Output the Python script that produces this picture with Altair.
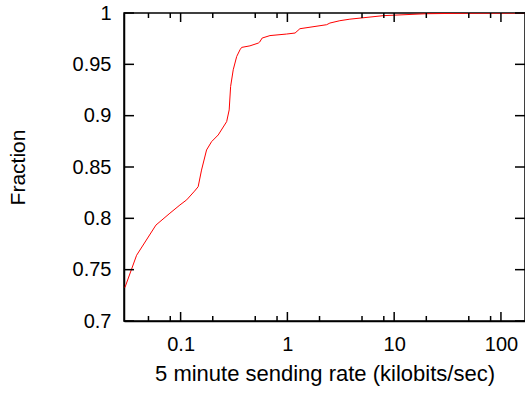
import altair as alt
import pandas as pd

# CDF of 5-minute sending rates
rate_kbps = [0.0301, 0.0387, 0.0587, 0.0794, 0.0985, 0.114, 0.135, 0.146, 0.157,
             0.175, 0.195, 0.225, 0.270, 0.285, 0.294, 0.311, 0.335, 0.36, 0.373,
             0.446, 0.534, 0.55, 0.58, 0.687, 0.98, 1.18, 1.31, 2.33, 2.5, 3.1,
             3.85, 7.9, 20, 50, 168]
fraction = [0.7326, 0.764, 0.7934, 0.805, 0.813, 0.818, 0.8265, 0.8308, 0.847,
            0.8666, 0.8747, 0.8812, 0.8942, 0.9056, 0.9284, 0.9447, 0.9576, 0.9642,
            0.9665, 0.968, 0.9707, 0.9717, 0.9756, 0.978, 0.9795, 0.9805, 0.9847,
            0.9886, 0.9902, 0.9925, 0.994, 0.9974, 0.9993, 0.9998, 1.0]

x_major = [0.1, 1, 10, 100]
x_minor = [0.05, 0.08, 0.2, 0.5, 0.8, 2, 5, 8, 20, 50, 80]
y_major = [0.7, 0.75, 0.8, 0.85, 0.9, 0.95, 1.0]

W, H = 401, 308
FONT = "Liberation Sans"

xscale = alt.Scale(type="log", domain=[0.0295, 168], nice=False)
yscale = alt.Scale(domain=[0.7, 1.0], nice=False, zero=False)

curve_df = pd.DataFrame({"rate": rate_kbps, "frac": fraction})

curve = alt.Chart(curve_df).mark_line(color="#ff0000", strokeWidth=1, clip=True).encode(
    x=alt.X("rate:Q", scale=xscale,
            axis=alt.Axis(values=x_major, format="~g", title="5 minute sending rate (kilobits/sec)",
                          grid=False, ticks=False, labelPadding=13, titlePadding=9,
                          titleFontSize=22)),
    y=alt.Y("frac:Q", scale=yscale,
            axis=alt.Axis(values=y_major, format="~g", title="Fraction",
                          grid=False, ticks=False, labelPadding=13, titlePadding=44,
                          titleFontSize=21)),
)

xmaj = pd.DataFrame({"v": x_major})
xmin = pd.DataFrame({"v": x_minor})
ymaj = pd.DataFrame({"v": y_major})

tick_style = dict(color="black", strokeWidth=1.5)

def xticks(df, length):
    base = alt.Chart(df).mark_rule(**tick_style)
    bottom = base.encode(x=alt.X("v:Q", scale=xscale), y=alt.value(H), y2=alt.value(H - length))
    top = base.encode(x=alt.X("v:Q", scale=xscale), y=alt.value(0), y2=alt.value(length))
    return [bottom, top]

ybase = alt.Chart(ymaj).mark_rule(**tick_style)
yleft = ybase.encode(y=alt.Y("v:Q", scale=yscale), x=alt.value(0), x2=alt.value(10))
yright = ybase.encode(y=alt.Y("v:Q", scale=yscale), x=alt.value(W), x2=alt.value(W - 10))

chart = alt.layer(
    curve, *xticks(xmaj, 9), *xticks(xmin, 5), yleft, yright
).properties(
    width=W, height=H,
    padding={"left": 124, "top": 13, "right": 0, "bottom": 72},
    autosize=alt.AutoSizeParams(type="none"),
).configure_view(
    stroke="black", strokeWidth=1.5
).configure_axis(
    domainColor="black", domainWidth=1.5,
    labelFont=FONT, labelFontSize=20, labelColor="black",
    titleFont=FONT, titleColor="black", titleFontWeight="normal",
)

chart.save("out.html", embed_options={"renderer": "svg", "actions": False})
